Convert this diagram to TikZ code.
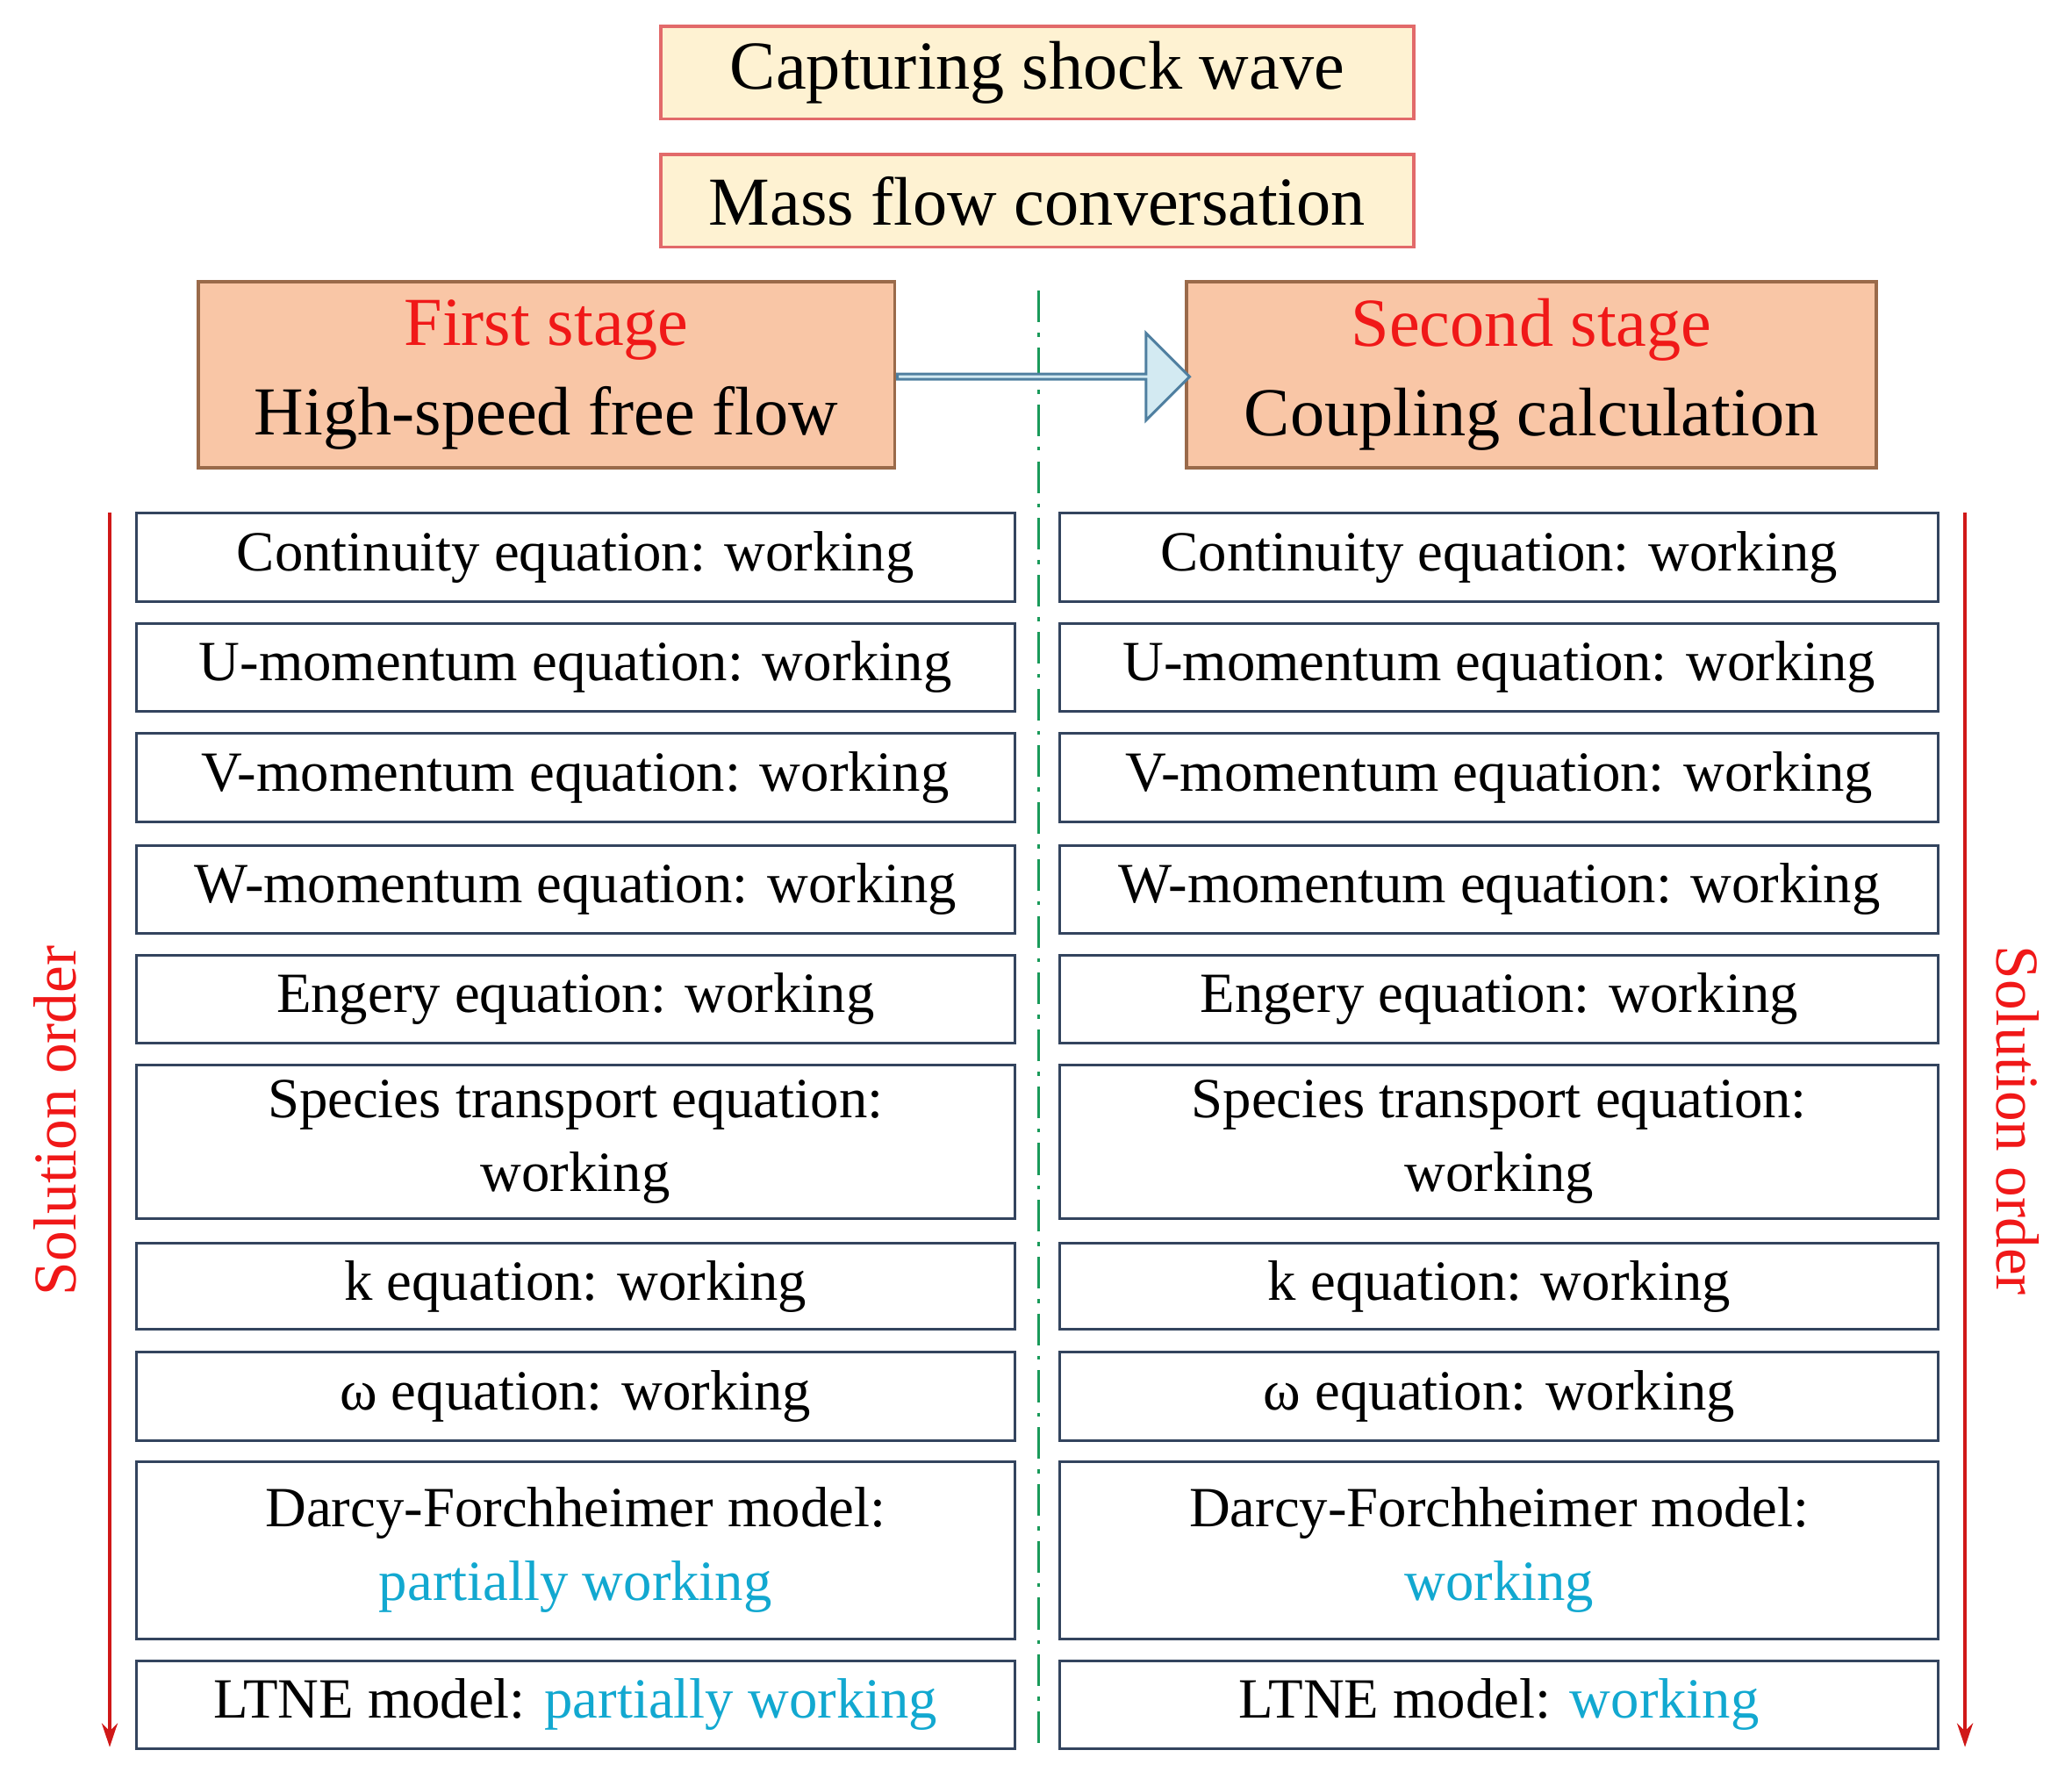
\documentclass[tikz,border=0pt]{standalone}
\usepackage{fontspec}
\setmainfont{Liberation Serif}
\usetikzlibrary{shapes.arrows,arrows.meta}
\definecolor{topfill}{HTML}{FEF2D2}
\definecolor{topline}{HTML}{E26A6A}
\definecolor{stfill}{HTML}{F9C6A6}
\definecolor{stline}{HTML}{9A6A4A}
\definecolor{boxline}{HTML}{33445E}
\definecolor{cyantext}{HTML}{12A8D0}
\definecolor{redtext}{HTML}{F01818}
\definecolor{arrred}{HTML}{D01818}
\definecolor{dashgreen}{HTML}{1A9A5A}
\definecolor{arrfill}{HTML}{D3EAF2}
\definecolor{arrline}{HTML}{4F7FA0}
\tikzset{
  topbox/.style={draw=topline, fill=topfill, line width=1.2pt, minimum width=285pt, minimum height=35pt, inner sep=0pt, font=\fontsize{26}{30}\selectfont},
  stbox/.style={draw=stline, fill=stfill, line width=1.2pt, minimum height=70.5pt, inner sep=0pt, align=center, font=\fontsize{26}{34}\selectfont},
  eqbox/.style={draw=boxline, line width=1pt, minimum width=332.5pt, inner sep=0pt, align=center, font=\fontsize{21.5}{28}\selectfont},
  order/.style={draw=arrred, line width=1.2pt, -{Stealth[length=9pt,width=6pt]}},
  ordertext/.style={text=redtext, font=\fontsize{23}{27}\selectfont}
}
\newcommand{\eqrow}[5]{%
  \pgfmathsetmacro{\yc}{(#2+#3)/2}%
  \pgfmathsetmacro{\hh}{(#3-#2)*0.5}%
  \node[eqbox, minimum height=\hh pt] (L#1) at (435.5,\yc) {#4};
  \node[eqbox, minimum height=\hh pt] (R#1) at (1134.5,\yc) {#5};
}
\begin{document}
\begin{tikzpicture}[x=0.5pt,y=-0.5pt]
\useasboundingbox (0,0) rectangle (1568,1346);
\draw[dashgreen, line width=1.2pt, dash pattern=on 12pt off 4pt on 1.5pt off 4pt] (786,220) coordinate (dtop) -- (786,1325) coordinate (dbot);
\node[topbox] (cap) at (785,55) {Capturing shock wave};
\node[topbox] (mass) at (785,152) {Mass flow conversation};
\node[stbox, minimum width=263.5pt] (first) at (413.5,283.5) {\textcolor{redtext}{First stage}\\High-speed free flow};
\node[stbox, minimum width=261pt] (second) at (1159,283.5) {\textcolor{redtext}{Second stage}\\Coupling calculation};
\node[single arrow, draw=arrline, fill=arrfill, line width=1pt, minimum height=110.5pt, single arrow head extend=8pt, minimum width=33pt, inner sep=0pt, anchor=west] (arr) at (first.east |- 0,285) {};
\eqrow{1}{388}{455}{Continuity equation: working}{Continuity equation: working}
\eqrow{2}{472}{538}{U-momentum equation: working}{U-momentum equation: working}
\eqrow{3}{555}{622}{V-momentum equation: working}{V-momentum equation: working}
\eqrow{4}{640}{706}{W-momentum equation: working}{W-momentum equation: working}
\eqrow{5}{723}{789}{Engery equation: working}{Engery equation: working}
\eqrow{6}{806}{922}{Species transport equation:\\working}{Species transport equation:\\working}
\eqrow{7}{941}{1006}{k equation: working}{k equation: working}
\eqrow{8}{1023}{1090}{ω equation: working}{ω equation: working}
\eqrow{9}{1106}{1240}{Darcy-Forchheimer model:\\\textcolor{cyantext}{partially working}}{Darcy-Forchheimer model:\\\textcolor{cyantext}{working}}
\eqrow{10}{1257}{1323}{LTNE model: \textcolor{cyantext}{partially working}}{LTNE model: \textcolor{cyantext}{working}}
\coordinate (la) at (83,388); \coordinate (lb) at (83,1322);
\coordinate (ra) at (1487,388); \coordinate (rb) at (1487,1322);
\draw[order] (la) -- (lb);
\draw[order] (ra) -- (rb);
\node[ordertext, rotate=90] (lo) at (42,848) {Solution order};
\node[ordertext, rotate=-90] (ro) at (1527,848) {Solution order};
\end{tikzpicture}
\end{document}
